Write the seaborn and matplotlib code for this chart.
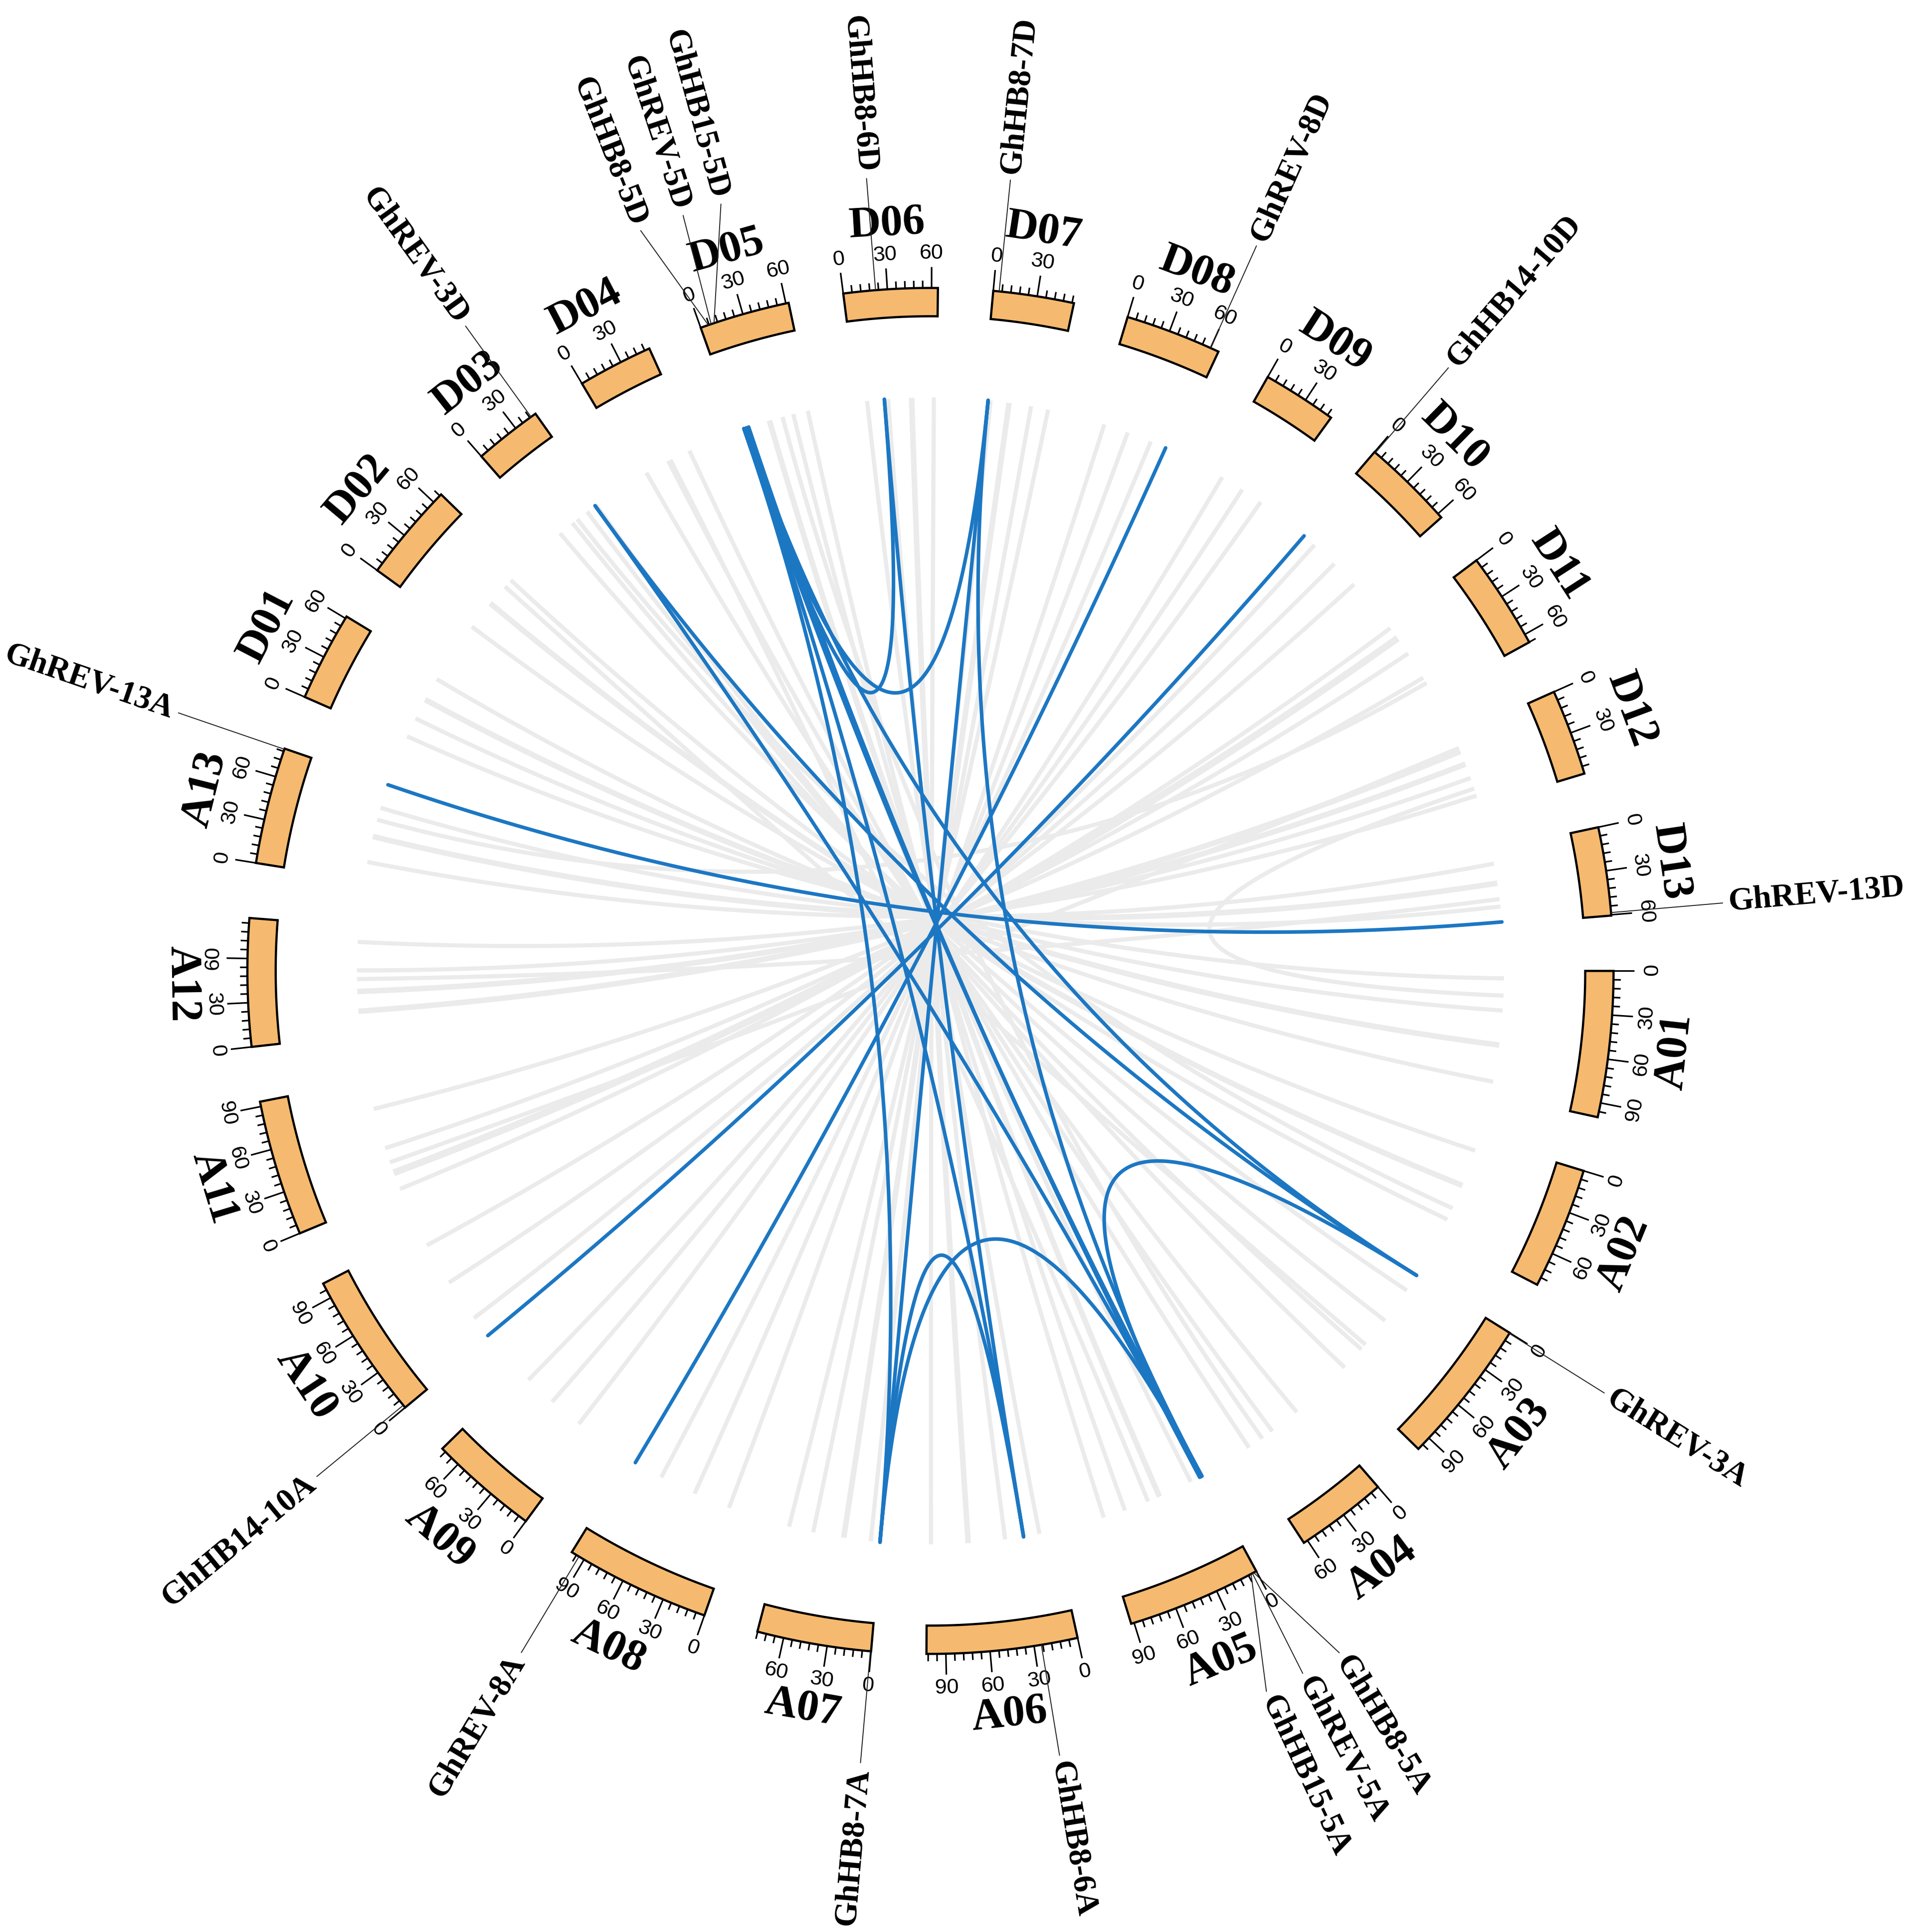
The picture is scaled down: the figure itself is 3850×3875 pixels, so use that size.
import numpy as np
import seaborn as sns
import matplotlib.pyplot as plt
from matplotlib.patches import Polygon
from matplotlib.collections import LineCollection

sns.set_theme(style="white")
plt.rcParams['font.family'] = ['Liberation Serif', 'DejaVu Serif']
plt.rcParams['text.color'] = 'black'

# chromosomes (Mb), drawn clockwise from 3 o'clock
chroms = ['A01', 'A02', 'A03', 'A04', 'A05', 'A06', 'A07', 'A08', 'A09', 'A10', 'A11', 'A12', 'A13',
          'D01', 'D02', 'D03', 'D04', 'D05', 'D06', 'D07', 'D08', 'D09', 'D10', 'D11', 'D12', 'D13']
chrom_len = [99.88, 83.45, 100.26, 62.91, 92.05, 103.17, 78.25, 99.70, 75.00, 100.87, 93.32, 87.48, 79.96,
             61.46, 67.28, 46.69, 51.45, 61.93, 64.29, 55.31, 65.89, 51.00, 63.37, 66.09, 59.11, 60.53]

# genes
gene_names = ['GhREV-3A', 'GhHB8-5A', 'GhREV-5A', 'GhHB15-5A', 'GhHB8-6A', 'GhHB8-7A', 'GhREV-8A',
              'GhHB14-10A', 'GhREV-13A', 'GhREV-3D', 'GhHB8-5D', 'GhREV-5D', 'GhHB15-5D', 'GhHB8-6D',
              'GhHB8-7D', 'GhREV-8D', 'GhHB14-10D', 'GhREV-13D']
gene_chrom = ['A03', 'A05', 'A05', 'A05', 'A06', 'A07', 'A08', 'A10', 'A13',
              'D03', 'D05', 'D05', 'D05', 'D06', 'D07', 'D08', 'D10', 'D13']
gene_pos = [0.5, 2.0, 3.0, 4.0, 25.0, 0.5, 94.0, 2.0, 79.5,
            43.0, 5.5, 7.5, 9.5, 22.0, 4.0, 60.0, 0.8, 58.5]

# duplicated gene pairs (blue)
blue_from = ['GhREV-13A', 'GhHB14-10A', 'GhREV-8A', 'GhREV-3A', 'GhREV-3A', 'GhREV-3A', 'GhREV-3D',
             'GhREV-5A', 'GhHB15-5A', 'GhHB8-5A', 'GhHB8-5D', 'GhHB8-5D', 'GhHB8-6A', 'GhHB8-5A',
             'GhHB8-6D', 'GhHB8-7D', 'GhHB8-5D', 'GhHB8-5D', 'GhHB8-7D']
blue_to = ['GhREV-13D', 'GhHB14-10D', 'GhREV-8D', 'GhREV-3D', 'GhREV-5A', 'GhREV-5D', 'GhREV-5A',
           'GhREV-5D', 'GhHB15-5D', 'GhHB8-5D', 'GhHB8-6D', 'GhHB8-7D', 'GhHB8-7A', 'GhHB8-7A',
           'GhHB8-6A', 'GhHB8-7A', 'GhHB8-6A', 'GhHB8-7A', 'GhHB8-5A']

# background collinear blocks (grey)
grey_chr1 = ['A01'] * 4 + ['A02'] * 3 + ['A03'] * 4 + ['A04'] * 3 + ['A05'] * 4 + ['A06'] * 4 + \
            ['A07'] * 4 + ['A08'] * 3 + ['A09'] * 3 + ['A10'] * 3 + ['A11'] * 4 + ['A12'] * 4 + \
            ['A13'] * 3 + ['A02', 'A03', 'A04', 'A05', 'A12', 'A01', 'A11', 'A13']
grey_pos1 = [6, 32, 60, 90, 10, 40, 70, 15, 45, 75, 95, 10, 35, 58, 12, 40, 70, 88, 12, 40, 70, 100,
             8, 30, 55, 75, 10, 40, 70, 12, 40, 66, 20, 55, 90, 2, 16, 37, 70, 19, 35, 52, 75,
             15, 36, 60, 60, 70, 45, 50, 45, 20, 25, 50]
grey_chr2 = ['D01'] * 4 + ['D02'] * 3 + ['D03'] * 4 + ['D04'] * 3 + ['D05'] * 4 + ['D06'] * 4 + \
            ['D07'] * 4 + ['D08'] * 3 + ['D09'] * 3 + ['D10'] * 3 + ['D11'] * 4 + ['D12'] * 4 + \
            ['D13'] * 3 + ['D03', 'D02', 'D05', 'D04', 'D13', 'D12', 'D12', 'D11']
grey_pos2 = [4, 20, 37, 56, 8, 32, 57, 7, 20, 35, 44, 8, 28, 47, 8, 27, 47, 59, 8, 25, 44, 62,
             6, 21, 39, 53, 7, 27, 47, 8, 27, 45, 12, 34, 57, 2, 12, 27, 50, 13, 24, 36, 51,
             11, 27, 46, 25, 50, 38, 30, 40, 45, 10, 55]
grey_width = [6, 6, 8, 6, 6, 8, 6, 6, 6, 6, 6, 6, 6, 6, 6, 8, 6, 6, 6, 6, 8, 6,
              6, 8, 6, 6, 6, 6, 6, 6, 6, 6, 6, 6, 6, 6, 10, 6, 6, 8, 8, 6, 6,
              6, 8, 6, 6, 6, 6, 6, 6, 6, 6, 6]

# label spread for crowded genes (degrees)
label_shift = {'GhHB8-5A': 2.7, 'GhREV-5A': -0.2, 'GhHB15-5A': -3.0,
               'GhHB8-5D': 2.4, 'GhREV-5D': -0.6, 'GhHB15-5D': -3.2}

GAP = 4.65
deg_per_mb = (360 - GAP * len(chroms)) / sum(chrom_len)
start = {}
a = 0.0
for c, L in zip(chroms, chrom_len):
    start[c] = a
    a -= L * deg_per_mb + GAP
clen = dict(zip(chroms, chrom_len))


def ang(c, p):
    return start[c] - p * deg_per_mb


def xy(r, th):
    t = np.radians(th)
    return r * np.cos(t), r * np.sin(t)


def tang_rot(th):
    th = th % 360
    return th - 90 if th < 180 else th + 90


R_LINK, R_IN, R_OUT = 466, 532, 555
BLUE = '#1C77C3'
GREY = '#EBEBEB'

fig = plt.figure(figsize=(38.5, 38.75), dpi=100)
ax = fig.add_axes([0, 0, 1, 1])
ax.set_xlim(-756, 804)
ax.set_ylim(-781, 789)
ax.axis('off')
sns.despine(ax=ax, left=True, bottom=True)

t = np.linspace(0, 1, 200)[:, None]


def link(th1, th2):
    p0 = np.array(xy(R_LINK, th1))
    p2 = np.array(xy(R_LINK, th2))
    return (1 - t) ** 2 * p0 + t ** 2 * p2


for c1, p1, c2, p2, w in zip(grey_chr1, grey_pos1, grey_chr2, grey_pos2, grey_width):
    pts = link(ang(c1, p1), ang(c2, p2))
    ax.plot(pts[:, 0], pts[:, 1], color=GREY, lw=w, solid_capstyle='butt', zorder=1)

gang = {g: ang(c, p) for g, c, p in zip(gene_names, gene_chrom, gene_pos)}
for g1, g2 in zip(blue_from, blue_to):
    pts = link(gang[g1], gang[g2])
    ax.plot(pts[:, 0], pts[:, 1], color=BLUE, lw=5.2, solid_capstyle='round', zorder=2)

# chromosome bars, ticks and labels
tick_segs = []
for c in chroms:
    a0, a1 = ang(c, 0), ang(c, clen[c])
    arc = np.linspace(a0, a1, 80)
    outer = np.array([xy(R_OUT, q) for q in arc])
    inner = np.array([xy(R_IN, q) for q in arc[::-1]])
    ax.add_patch(Polygon(np.vstack([outer, inner]), closed=True, facecolor='#F5BA6F',
                         edgecolor='black', lw=3.2, joinstyle='miter', zorder=3))
    for p in range(0, int(clen[c]) + 1, 6):
        q = ang(c, p)
        L = 17 if p % 30 == 0 else 6
        tick_segs.append([xy(R_OUT, q), xy(R_OUT + L, q)])
        if p % 30 == 0:
            x, y = xy(583, q)
            ax.text(x, y, str(p), fontsize=31, family=['Liberation Sans', 'DejaVu Sans'],
                    rotation=tang_rot(q), rotation_mode='anchor', ha='center', va='center', zorder=4)
    mid = (a0 + a1) / 2
    x, y = xy(608, mid)
    ax.text(x, y, c, fontsize=64, fontweight='bold', rotation=tang_rot(mid),
            rotation_mode='anchor', ha='center', va='center', zorder=4)
ax.add_collection(LineCollection(tick_segs, colors='black', linewidths=2.3, zorder=4))

# gene labels
for g in gene_names:
    q = gang[g]
    ql = q + label_shift.get(g, 0.0)
    x0, y0 = xy(R_OUT, q)
    x1, y1 = xy(646, ql)
    ax.plot([x0, x1], [y0, y1], color='#222222', lw=1.4, zorder=5)
    x, y = xy(651, ql)
    qn = (ql + 180) % 360 - 180
    if -90 <= qn <= 90:
        rot, ha = qn, 'left'
    else:
        rot, ha = qn - 180, 'right'
    ax.text(x, y, g, fontsize=47, fontweight='bold', rotation=rot, rotation_mode='anchor',
            ha=ha, va='center', zorder=5)

fig.savefig('out.png', dpi=100)
